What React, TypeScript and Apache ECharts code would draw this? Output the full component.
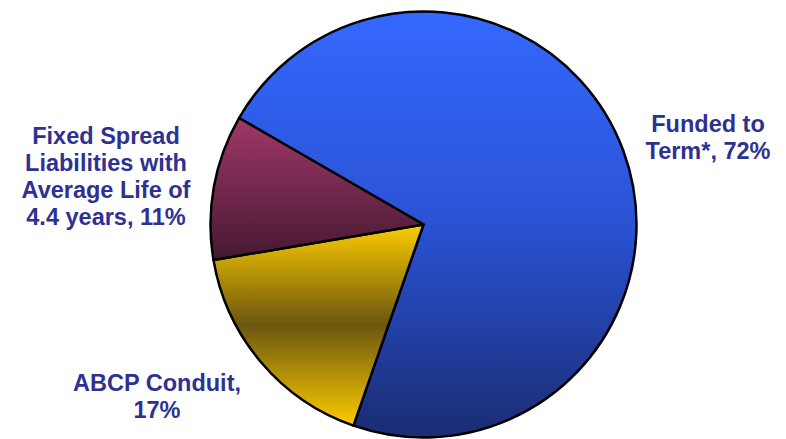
import React, { useEffect, useRef } from "react";
import * as echarts from "echarts";

const categories = ["Funded to Term*", "ABCP Conduit", "Fixed Spread Liabilities with Average Life of 4.4 years"];
const values = [72, 17, 11];
const labelTexts = [
  "Funded to\nTerm*, 72%",
  "ABCP Conduit,\n17%",
  "Fixed Spread\nLiabilities with\nAverage Life of\n4.4 years, 11%",
];

const labelPos = [
  { x: 708, y: 137 },
  { x: 157, y: 396 },
  { x: 106, y: 176 },
];

const fills = [
  new echarts.graphic.LinearGradient(0, 0, 0, 1, [
    { offset: 0, color: "#3468ff" },
    { offset: 0.5, color: "#2a52d4" },
    { offset: 1, color: "#1a2c72" },
  ]),
  new echarts.graphic.LinearGradient(0, 0, 0, 1, [
    { offset: 0, color: "#fccc00" },
    { offset: 0.5, color: "#6b5610" },
    { offset: 1, color: "#fccc00" },
  ]),
  new echarts.graphic.LinearGradient(0, 0, 0, 1, [
    { offset: 0, color: "#a03868" },
    { offset: 1, color: "#461831" },
  ]),
];

export default function App() {
  const ref = useRef<HTMLDivElement>(null);
  useEffect(() => {
    if (!ref.current) return;
    const chart = echarts.init(ref.current, undefined, { renderer: "svg" });
    chart.setOption({
      animation: false,
      backgroundColor: "#ffffff",
      series: [
        {
          type: "pie",
          center: [423.5, 224.5],
          radius: [0, 213],
          startAngle: 150,
          clockwise: true,
          avoidLabelOverlap: false,
          data: categories.map((name, i) => ({
            name,
            value: values[i],
            itemStyle: { color: fills[i] },
            label: { formatter: labelTexts[i] },
          })),
          itemStyle: { borderColor: "#000000", borderWidth: 2.5 },
          label: {
            show: true,
            position: "outside",
            color: "#2e3192",
            fontFamily: "'Liberation Sans', Arial, sans-serif",
            fontWeight: "bold",
            fontSize: 23.5,
            lineHeight: 27,
            align: "center",
          },
          labelLine: { show: false },
          labelLayout: (params: any) => ({
            x: labelPos[params.dataIndex].x,
            y: labelPos[params.dataIndex].y,
            align: "center",
            verticalAlign: "middle",
          }),
          emphasis: { disabled: true },
        },
      ],
    });
    return () => chart.dispose();
  }, []);
  return (
    <div
      ref={ref}
      style={{ position: "fixed", left: 0, top: 0, width: 786, height: 439 }}
    />
  );
}
